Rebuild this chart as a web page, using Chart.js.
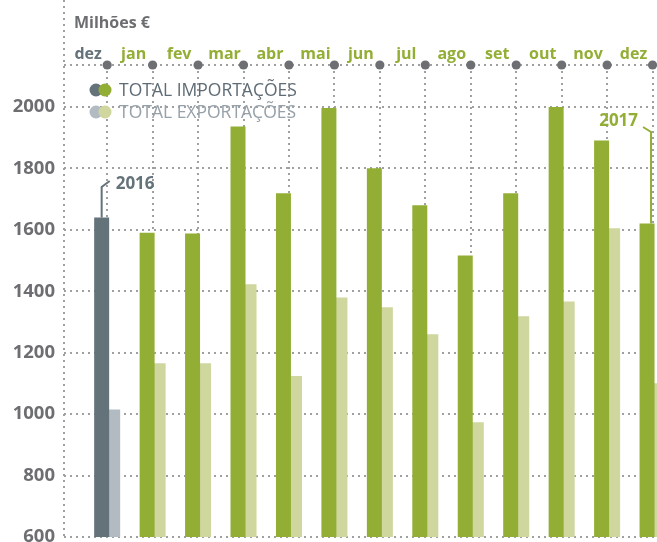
<!DOCTYPE html>
<html>
<head>
<meta charset="utf-8">
<script src="https://cdn.jsdelivr.net/npm/chart.js@4.4.0/dist/chart.umd.min.js"></script>
<style>
  html, body { margin: 0; padding: 0; background: #fff; overflow: hidden; }
  #wrap { position: absolute; left: 0; top: 0; width: 698px; height: 560px; }
</style>
</head>
<body>
<div id="wrap"><canvas id="myChart" width="698" height="560"></canvas></div>
<script>
// months, first one is Dec 2016, the rest 2017
const months = ['dez', 'jan', 'fev', 'mar', 'abr', 'mai', 'jun', 'jul', 'ago', 'set', 'out', 'nov', 'dez'];
const importacoes = [1640, 1591, 1588, 1937, 1719, 1997, 1801, 1680, 1517, 1719, 2000, 1891, 1621];
const exportacoes = [1015, 1166, 1166, 1423, 1124, 1380, 1348, 1260, 974, 1319, 1367, 1605, 1101];
const yTicks = [600, 800, 1000, 1200, 1400, 1600, 1800, 2000];
const yearLabels = ['2016', '2017'];

const slate = 'rgb(100, 114, 122)';
const slateLight = 'rgb(179, 187, 194)';
const green = 'rgb(147, 174, 53)';
const greenLight = 'rgb(207, 214, 158)';
const dotGrey = 'rgb(160, 160, 163)';
const textGrey = 'rgb(109, 110, 113)';
const FONT = '"Open Sans", sans-serif';

const decor = {
  id: 'decor',
  afterDraw(chart) {
    const ctx = chart.ctx;
    const area = chart.chartArea;
    const x = chart.scales.x;
    ctx.save();
    // dotted axis lines (left one runs up to the top of the page)
    ctx.strokeStyle = dotGrey;
    ctx.lineWidth = 2;
    ctx.setLineDash([2, 4]);
    ctx.beginPath();
    ctx.moveTo(area.left, 0);
    ctx.lineTo(area.left, area.bottom);
    ctx.moveTo(area.left, area.top);
    ctx.lineTo(area.right, area.top);
    ctx.stroke();
    ctx.setLineDash([]);

    // big dots on the top line
    ctx.fillStyle = 'rgb(110, 111, 114)';
    for (let i = 0; i < months.length; i++) {
      ctx.beginPath();
      ctx.arc(x.getPixelForValue(i), area.top, 4.6, 0, Math.PI * 2);
      ctx.fill();
    }

    // unit
    ctx.fillStyle = textGrey;
    ctx.font = 'bold 16px ' + FONT;
    ctx.textBaseline = 'alphabetic';
    ctx.textAlign = 'left';
    ctx.fillText('Milhões €', 74, 28);

    // legend
    const rows = [
      {a: slate, b: green, text: 'TOTAL IMPORTAÇÕES', color: 'rgb(95, 108, 117)'},
      {a: slateLight, b: greenLight, text: 'TOTAL EXPORTAÇÕES', color: 'rgb(150, 161, 169)'}
    ];
    ctx.font = '17.5px ' + FONT;
    rows.forEach((r, k) => {
      const cy = 90 + k * 22;
      ctx.fillStyle = r.a;
      ctx.beginPath(); ctx.arc(96, cy, 6.5, 0, Math.PI * 2); ctx.fill();
      ctx.fillStyle = r.b;
      ctx.beginPath(); ctx.arc(105, cy, 6.5, 0, Math.PI * 2); ctx.fill();
      ctx.fillStyle = r.color;
      ctx.fillText(r.text, 119, cy + 6);
    });

    // year callouts
    const bars = chart.getDatasetMeta(0).data;
    const first = bars[0];
    const last = bars[bars.length - 1];
    ctx.lineWidth = 2;
    ctx.font = 'bold 17px ' + FONT;

    ctx.strokeStyle = slate;
    ctx.fillStyle = slate;
    ctx.beginPath();
    ctx.moveTo(first.x, first.y);
    ctx.lineTo(first.x, 187);
    ctx.lineTo(first.x + 8, 181);
    ctx.stroke();
    ctx.textAlign = 'left';
    ctx.fillText(yearLabels[0], first.x + 14, 189);

    ctx.strokeStyle = green;
    ctx.fillStyle = green;
    ctx.beginPath();
    ctx.moveTo(last.x + 4, last.y);
    ctx.lineTo(last.x + 4, 132);
    ctx.lineTo(last.x - 4, 127);
    ctx.stroke();
    ctx.textAlign = 'right';
    ctx.fillText(yearLabels[1], last.x - 9, 126);
    ctx.restore();
  }
};

const data = {
  datasets: [{
    label: 'TOTAL IMPORTAÇÕES',
    data: importacoes.map((v, i) => ({x: i, y: v})),
    backgroundColor: importacoes.map((v, i) => i === 0 ? slate : green)
  }, {
    label: 'TOTAL EXPORTAÇÕES',
    data: exportacoes.map((v, i) => ({x: i, y: v})),
    backgroundColor: exportacoes.map((v, i) => i === 0 ? slateLight : greenLight)
  }]
};

const config = {
  type: 'bar',
  data,
  options: {
    responsive: false,
    animation: false,
    categoryPercentage: 0.485,
    barPercentage: 1.36,
    layout: {padding: {top: 42, bottom: 23, left: 0, right: 0}},
    plugins: {legend: {display: false}, tooltip: {enabled: false}},
    scales: {
      x: {
        type: 'linear',
        position: 'top',
        offset: false,
        min: -0.95,
        max: 13,
        afterBuildTicks: (scale) => { scale.ticks = months.map((m, i) => ({value: i})); },
        afterFit: (scale) => { scale.height = 23; },
        grid: {color: dotGrey, lineWidth: 2, drawTicks: false, offset: false},
        border: {display: false, dash: [2, 4]},
        ticks: {
          padding: 1,
          labelOffset: -19,
          maxRotation: 0,
          autoSkip: false,
          font: {family: FONT, size: 16, weight: 'bold'},
          color: (c) => c.index === 0 ? slate : green,
          callback: (v) => months[v] || ''
        }
      },
      y: {
        min: 600,
        max: 2137,
        afterBuildTicks: (scale) => { scale.ticks = yTicks.map(v => ({value: v})); },
        afterFit: (scale) => { scale.width = 64; },
        grid: {color: dotGrey, lineWidth: 2, drawTicks: false},
        border: {display: false, dash: [2, 4]},
        ticks: {
          padding: 9,
          font: {family: FONT, size: 18.5, weight: 'bold'},
          color: textGrey,
          callback: (v) => String(v)
        }
      }
    }
  },
  plugins: [decor]
};

var myChart = new Chart(document.getElementById('myChart'), config);
</script>
</body>
</html>
